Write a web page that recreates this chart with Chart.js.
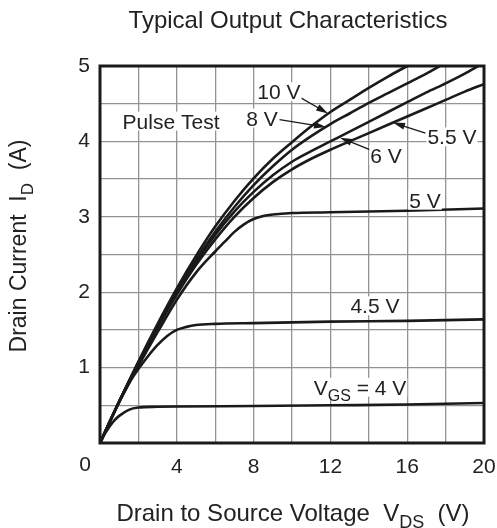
<!DOCTYPE html>
<html>
<head>
<meta charset="utf-8">
<script src="https://cdn.jsdelivr.net/npm/chart.js@4/dist/chart.umd.min.js"></script>
<style>
  html, body { margin: 0; padding: 0; background: #fff; }
  #wrap { width: 497px; height: 528px; }
</style>
</head>
<body>
<div id="wrap"><canvas id="outChart" width="497" height="528"></canvas></div>
<script>
// Drain current I_D (A) against V_DS (V), one pair of lists per gate voltage
const vds10 = [0, 1, 2, 3, 4, 5, 6, 7, 8, 9, 10, 11, 12, 13, 14, 15, 16];
const id10  = [0, 0.55, 1.08, 1.58, 2.05, 2.48, 2.87, 3.21, 3.51, 3.77, 3.99, 4.2, 4.39, 4.55, 4.71, 4.86, 5.0];

const vds8 = [0, 1, 2, 3, 4, 5, 6, 7, 8, 9, 10, 11, 12, 13, 14, 15, 16, 17, 17.7];
const id8  = [0, 0.55, 1.07, 1.56, 2.02, 2.43, 2.8, 3.13, 3.42, 3.67, 3.89, 4.07, 4.23, 4.37, 4.51, 4.64, 4.77, 4.9, 5.0];

const vds6 = [0, 1, 2, 3, 4, 5, 6, 7, 8, 9, 10, 11, 12, 13, 14, 15, 16, 17, 18, 19, 19.7];
const id6  = [0, 0.55, 1.06, 1.55, 2.0, 2.4, 2.76, 3.07, 3.33, 3.55, 3.73, 3.87, 4.0, 4.13, 4.26, 4.39, 4.52, 4.65, 4.77, 4.9, 5.0];

const vds55 = [0, 1, 2, 3, 4, 5, 6, 7, 8, 9, 10, 11, 12, 13, 14, 15, 16, 17, 18, 19, 20];
const id55  = [0, 0.55, 1.05, 1.53, 1.97, 2.36, 2.7, 3.0, 3.25, 3.46, 3.63, 3.77, 3.89, 4.0, 4.11, 4.22, 4.33, 4.44, 4.55, 4.66, 4.76];

const vds5 = [0, 1, 2, 3, 4, 5, 6, 6.5, 7, 7.5, 8, 8.5, 9, 10, 12, 16, 20];
const id5  = [0, 0.54, 1.02, 1.47, 1.9, 2.26, 2.54, 2.67, 2.8, 2.9, 2.97, 3.01, 3.03, 3.05, 3.06, 3.08, 3.11];

const vds45 = [0, 0.5, 1, 1.5, 2, 2.5, 3, 3.5, 4, 4.5, 5, 6, 8, 12, 16, 20];
const id45  = [0, 0.28, 0.55, 0.79, 0.98, 1.15, 1.3, 1.42, 1.5, 1.54, 1.565, 1.58, 1.59, 1.61, 1.62, 1.64];

const vds4 = [0, 0.25, 0.5, 0.75, 1, 1.5, 2, 3, 4, 8, 12, 16, 20];
const id4  = [0, 0.12, 0.22, 0.3, 0.36, 0.44, 0.47, 0.48, 0.485, 0.49, 0.5, 0.51, 0.53];

const xTicks = [4, 8, 12, 16, 20];
const yTicks = [1, 2, 3, 4, 5];

const FONT = '"Liberation Sans", Arial, sans-serif';
const INK = '#1a1a1a';

function pts(xs, ys) {
  return xs.map((x, i) => ({ x: x, y: ys[i] }));
}

function curve(label, xs, ys) {
  return {
    label: label,
    data: pts(xs, ys),
    borderColor: INK,
    borderWidth: 2.6,
    pointRadius: 0,
    fill: false,
    cubicInterpolationMode: 'monotone'
  };
}

// text with optional subscript pieces: [[text, isSub], ...]
function richWidth(ctx, parts, size) {
  let w = 0;
  parts.forEach(p => {
    ctx.font = (p[1] ? Math.round(size * 0.75) : size) + 'px ' + FONT;
    w += ctx.measureText(p[0]).width;
  });
  return w;
}

function drawRich(ctx, parts, cx, baseY, size) {
  let x = cx - richWidth(ctx, parts, size) / 2;
  ctx.textAlign = 'left';
  ctx.textBaseline = 'alphabetic';
  parts.forEach(p => {
    const sz = p[1] ? Math.round(size * 0.75) : size;
    ctx.font = sz + 'px ' + FONT;
    ctx.fillText(p[0], x, baseY + (p[1] ? size * 0.3 : 0));
    x += ctx.measureText(p[0]).width;
  });
}

// curve labels placed in axis units; arrows run from "from" to "tip"
const notes = [
  { parts: [['Pulse Test']], at: [3.7, 4.27] },
  { parts: [['10 V']], at: [9.32, 4.66], from: [10.3, 4.6], tip: [11.88, 4.37] },
  { parts: [['8 V']], at: [8.44, 4.31], from: [9.35, 4.29], tip: [11.77, 4.19] },
  { parts: [['5.5 V']], at: [18.33, 4.06], from: [16.95, 4.11], tip: [15.26, 4.25] },
  { parts: [['6 V']], at: [14.9, 3.81], from: [14.15, 3.88], tip: [12.5, 4.05] },
  { parts: [['5 V']], at: [16.93, 3.22] },
  { parts: [['4.5 V']], at: [14.32, 1.82] },
  { parts: [['V'], ['GS', true], [' = 4 V']], at: [13.54, 0.74] }
];

const decor = {
  id: 'decor',
  afterDraw(chart) {
    const ctx = chart.ctx;
    const a = chart.chartArea;
    const xs = chart.scales.x, ys = chart.scales.y;
    ctx.save();

    // frame around the plot
    ctx.strokeStyle = INK;
    ctx.lineWidth = 3;
    ctx.strokeRect(a.left, a.top, a.right - a.left, a.bottom - a.top);

    ctx.fillStyle = '#222';
    drawRich(ctx, [['Typical Output Characteristics']], 288, 28, 24);
    drawRich(ctx, [['Drain to Source Voltage  V'], ['DS', true], ['  (V)']], 293, 521, 24);

    ctx.save();
    ctx.translate(26, 246);
    ctx.rotate(-Math.PI / 2);
    drawRich(ctx, [['Drain Current  I'], ['D', true], ['  (A)']], 0, 0, 23);
    ctx.restore();

    // shared origin label
    ctx.font = '21px ' + FONT;
    ctx.textAlign = 'center';
    ctx.textBaseline = 'middle';
    ctx.fillText('0', a.left - 15, a.bottom + 22);

    notes.forEach(n => {
      const size = 21;
      const cx = xs.getPixelForValue(n.at[0]);
      const cy = ys.getPixelForValue(n.at[1]);
      if (n.tip) {
        const x0 = xs.getPixelForValue(n.from[0]), y0 = ys.getPixelForValue(n.from[1]);
        const x1 = xs.getPixelForValue(n.tip[0]), y1 = ys.getPixelForValue(n.tip[1]);
        const ang = Math.atan2(y1 - y0, x1 - x0);
        ctx.strokeStyle = INK;
        ctx.lineWidth = 1.3;
        ctx.beginPath();
        ctx.moveTo(x0, y0);
        ctx.lineTo(x1 - 8 * Math.cos(ang), y1 - 8 * Math.sin(ang));
        ctx.stroke();
        ctx.fillStyle = INK;
        ctx.beginPath();
        ctx.moveTo(x1, y1);
        ctx.lineTo(x1 - 12 * Math.cos(ang) + 3.5 * Math.sin(ang), y1 - 12 * Math.sin(ang) - 3.5 * Math.cos(ang));
        ctx.lineTo(x1 - 12 * Math.cos(ang) - 3.5 * Math.sin(ang), y1 - 12 * Math.sin(ang) + 3.5 * Math.cos(ang));
        ctx.closePath();
        ctx.fill();
      }
      const w = richWidth(ctx, n.parts, size);
      ctx.fillStyle = '#fff';
      ctx.fillRect(cx - w / 2 - 1, cy - size * 0.45, w + 2, size * 0.9);
      ctx.fillStyle = '#222';
      drawRich(ctx, n.parts, cx, cy + size * 0.36, size);
    });

    ctx.restore();
  }
};

new Chart(document.getElementById('outChart'), {
  type: 'line',
  data: {
    datasets: [
      curve('10 V', vds10, id10),
      curve('8 V', vds8, id8),
      curve('6 V', vds6, id6),
      curve('5.5 V', vds55, id55),
      curve('5 V', vds5, id5),
      curve('4.5 V', vds45, id45),
      curve('4 V', vds4, id4)
    ]
  },
  options: {
    responsive: false,
    animation: false,
    devicePixelRatio: 1,
    layout: { padding: { top: 66, right: 13, left: 0, bottom: 0 } },
    plugins: { legend: { display: false }, tooltip: { enabled: false } },
    scales: {
      x: {
        type: 'linear',
        min: 0,
        max: 20,
        afterFit: s => { s.height = 85; s.paddingLeft = 0; s.paddingRight = 0; },
        grid: { color: '#939393', lineWidth: 1.3, drawTicks: false },
        border: { display: false },
        ticks: {
          stepSize: 2,
          autoSkip: false,
          maxRotation: 0,
          padding: 12,
          color: '#222',
          font: { family: FONT, size: 21 },
          callback: v => xTicks.includes(v) ? String(v) : ''
        }
      },
      y: {
        min: 0,
        max: 5,
        afterFit: s => { s.width = 100; s.paddingTop = 0; s.paddingBottom = 0; },
        grid: { color: '#939393', lineWidth: 1.3, drawTicks: false },
        border: { display: false },
        ticks: {
          stepSize: 0.5,
          autoSkip: false,
          padding: 10,
          color: '#222',
          font: { family: FONT, size: 21 },
          callback: v => yTicks.includes(v) ? String(v) : ''
        }
      }
    }
  },
  plugins: [decor]
});
</script>
</body>
</html>
